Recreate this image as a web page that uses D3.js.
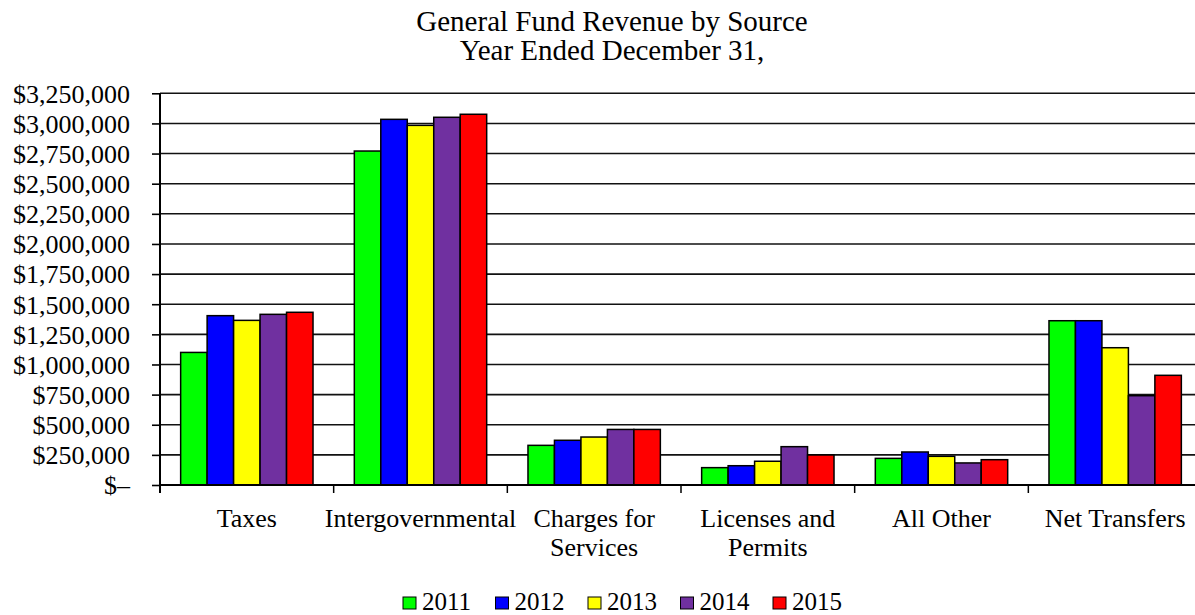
<!DOCTYPE html>
<html>
<head>
<meta charset="utf-8">
<script src="https://cdn.jsdelivr.net/npm/d3@7"></script>
<style>
  body { margin: 0; background: #fff; }
  svg text { font-family: "Liberation Serif", "Times New Roman", serif; fill: #000; }
</style>
</head>
<body>
<script>
var categories = ['Taxes', 'Intergovernmental', 'Charges for Services', 'Licenses and Permits', 'All Other', 'Net Transfers'];
var categoryLines = [['Taxes'], ['Intergovernmental'], ['Charges for', 'Services'], ['Licenses and', 'Permits'], ['All Other'], ['Net Transfers']];
var years = ['2011', '2012', '2013', '2014', '2015'];
var colors = ['#00ff00', '#0000ff', '#ffff00', '#7030a0', '#ff0000'];

var v2011 = [1100000, 2771000, 329000, 144000, 221000, 1363000];
var v2012 = [1405000, 3034000, 371000, 160000, 274000, 1363000];
var v2013 = [1366000, 2984000, 398000, 197000, 238000, 1139000];
var v2014 = [1416000, 3051000, 461000, 318000, 183000, 741000];
var v2015 = [1433000, 3076000, 461000, 249000, 210000, 910000];
var series = [v2011, v2012, v2013, v2014, v2015];

var yTicks = [0, 250000, 500000, 750000, 1000000, 1250000, 1500000, 1750000, 2000000, 2250000, 2500000, 2750000, 3000000, 3250000];

var width = 1195, height = 615;
var plotLeft = 160, plotRight = 1202, plotTop = 93.3, plotBottom = 485;

var svg = d3.select('body').append('svg').attr('width', width).attr('height', height);

var x0 = d3.scaleBand().domain(categories).range([plotLeft, plotRight]);
var x1 = d3.scaleBand().domain(years).range([0, x0.bandwidth()]).paddingOuter(0.78);
var y = d3.scaleLinear().domain([0, 3250000]).range([plotBottom, plotTop]);

function money(d) {
  return d === 0 ? '$\u2013' : '$' + d3.format(',')(d);
}

// title
var title = svg.append('text').attr('text-anchor', 'middle').style('font-size', '29px');
title.append('tspan').attr('x', 612).attr('y', 31).text('General Fund Revenue by Source');
title.append('tspan').attr('x', 612).attr('y', 60).text('Year Ended December 31,');

// gridlines
svg.append('g').selectAll('line')
  .data(yTicks.filter(function (d) { return d > 0; }))
  .enter().append('line')
  .attr('x1', plotLeft).attr('x2', width)
  .attr('y1', function (d) { return y(d); })
  .attr('y2', function (d) { return y(d); })
  .attr('stroke', '#111').attr('stroke-width', 1.6);

// bars
var groups = svg.append('g').selectAll('g')
  .data(categories)
  .enter().append('g')
  .attr('transform', function (c) { return 'translate(' + x0(c) + ',0)'; });

groups.selectAll('rect')
  .data(function (c, i) {
    return years.map(function (yr, j) { return { year: yr, value: series[j][i], color: colors[j] }; });
  })
  .enter().append('rect')
  .attr('x', function (d) { return x1(d.year); })
  .attr('width', x1.bandwidth())
  .attr('y', function (d) { return y(d.value); })
  .attr('height', function (d) { return plotBottom - y(d.value); })
  .attr('fill', function (d) { return d.color; })
  .attr('stroke', '#000').attr('stroke-width', 1.5);

// y axis
var yAxis = svg.append('g')
  .attr('transform', 'translate(' + plotLeft + ',0)')
  .call(d3.axisLeft(y).tickValues(yTicks).tickFormat(money).tickSize(8).tickPadding(22));
yAxis.select('.domain').attr('stroke', '#000').attr('stroke-width', 2)
  .attr('d', 'M0,' + plotTop + 'V' + (plotBottom + 8));
yAxis.selectAll('.tick line').attr('stroke', '#000').attr('stroke-width', 1.6);
yAxis.selectAll('.tick text').style('font-size', '26px').style('font-family', '"Liberation Serif", "Times New Roman", serif').attr('dy', '0.34em');

// x axis line and category ticks
svg.append('line')
  .attr('x1', plotLeft).attr('x2', width)
  .attr('y1', plotBottom).attr('y2', plotBottom)
  .attr('stroke', '#000').attr('stroke-width', 2);

svg.append('g').selectAll('line')
  .data(categories.slice(1))
  .enter().append('line')
  .attr('x1', function (c) { return x0(c); })
  .attr('x2', function (c) { return x0(c); })
  .attr('y1', plotBottom).attr('y2', plotBottom + 8)
  .attr('stroke', '#000').attr('stroke-width', 1.5);

// category labels
var labels = svg.append('g').selectAll('text')
  .data(categories)
  .enter().append('text')
  .attr('text-anchor', 'middle')
  .style('font-size', '26px');

labels.each(function (c, i) {
  var t = d3.select(this);
  categoryLines[i].forEach(function (line, k) {
    t.append('tspan')
      .attr('x', x0(c) + x0.bandwidth() / 2)
      .attr('y', 527 + k * 29)
      .text(line);
  });
});

// legend
var legend = svg.append('g').selectAll('g')
  .data(years)
  .enter().append('g')
  .attr('transform', function (d, i) { return 'translate(' + (403 + i * 92.5) + ',597)'; });

legend.append('rect')
  .attr('width', 13).attr('height', 12)
  .attr('fill', function (d, i) { return colors[i]; })
  .attr('stroke', '#000').attr('stroke-width', 1);

legend.append('text')
  .attr('x', 19).attr('y', 13)
  .style('font-size', '25px')
  .text(function (d) { return d; });
</script>
</body>
</html>
